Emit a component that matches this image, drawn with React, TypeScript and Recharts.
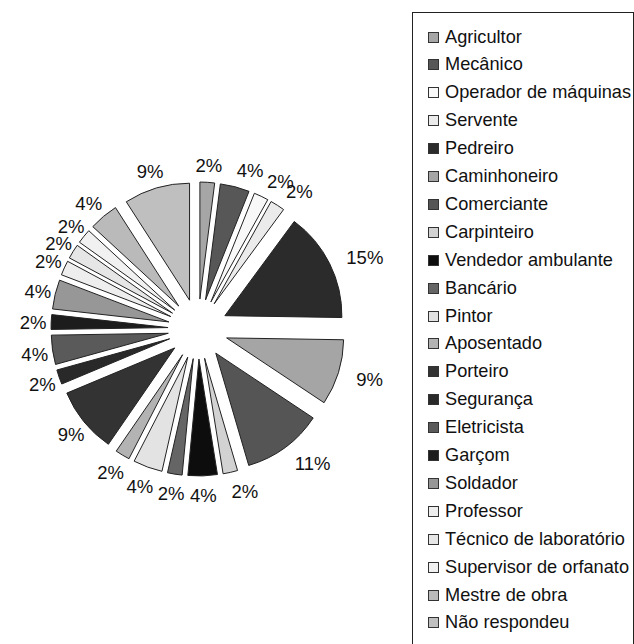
import React from "react";
import { PieChart, Pie, Cell, Sector, Legend } from "recharts";

// Occupations and their share (%) of respondents
const occupations = [
  "Agricultor",
  "Mecânico",
  "Operador de máquinas",
  "Servente",
  "Pedreiro",
  "Caminhoneiro",
  "Comerciante",
  "Carpinteiro",
  "Vendedor ambulante",
  "Bancário",
  "Pintor",
  "Aposentado",
  "Porteiro",
  "Segurança",
  "Eletricista",
  "Garçom",
  "Soldador",
  "Professor",
  "Técnico de laboratório",
  "Supervisor de orfanato",
  "Mestre de obra",
  "Não respondeu",
];

const shares = [2, 4, 2, 2, 15, 9, 11, 2, 4, 2, 4, 2, 9, 2, 4, 2, 4, 2, 2, 2, 4, 9];

const grays = [
  "#a6a6a6", "#575757", "#f8f8f8", "#ebebeb", "#2b2b2b", "#a5a5a5",
  "#555555", "#d2d2d2", "#0d0d0d", "#656565", "#e3e3e3", "#b3b3b3",
  "#333333", "#292929", "#5a5a5a", "#1c1c1c", "#979797", "#eeeeee",
  "#e6e6e6", "#f1f1f1", "#bababa", "#bfbfbf",
];

const data = occupations.map((name, i) => ({ name, value: shares[i] }));

const RAD = Math.PI / 180;
const EXPLODE = 30;
const LABEL_R = 170;
const FONT = '"Liberation Sans", Arial, sans-serif';

// every slice pulled out along its own bisector
function ExplodedSlice(props: any) {
  const { cx, cy, midAngle } = props;
  const dx = EXPLODE * Math.cos(-midAngle * RAD);
  const dy = EXPLODE * Math.sin(-midAngle * RAD);
  return <Sector {...props} cx={cx + dx} cy={cy + dy} />;
}

// labels on the right grow outward from their anchor, the rest stay centred
function PercentLabel(props: any) {
  const { cx, cy, midAngle, value } = props;
  const ux = Math.cos(-midAngle * RAD);
  const uy = Math.sin(-midAngle * RAD);
  const right = ux > 0.1;
  const x = cx + LABEL_R * ux + (right ? -4 : ux < -0.75 ? 5 : 0);
  const y = cy + LABEL_R * uy + 1.5 - 4.5 * uy;
  return (
    <text
      x={x}
      y={y}
      textAnchor={right ? "start" : "middle"}
      dominantBaseline="central"
      fill="#111"
      fontSize={18.5}
      fontFamily={FONT}
    >
      {`${value}%`}
    </text>
  );
}

function BoxLegend({ payload }: any) {
  const items = [...(payload || [])].sort(
    (a: any, b: any) => occupations.indexOf(a.value) - occupations.indexOf(b.value)
  );
  return (
    <div
      style={{
        position: "relative",
        width: 222,
        height: 650,
        boxSizing: "border-box",
        border: "1px solid #222",
        background: "#fff",
        fontFamily: FONT,
        fontSize: 18.2,
        color: "#111",
      }}
    >
      {items.map((entry: any, i: number) => (
        <div
          key={entry.value}
          style={{
            position: "absolute",
            left: 15,
            top: 10 + i * 27.9,
            height: 28,
            display: "flex",
            alignItems: "center",
            whiteSpace: "nowrap",
          }}
        >
          <span
            style={{
              display: "inline-block",
              width: 11,
              height: 11,
              boxSizing: "border-box",
              border: "1px solid #333",
              background: entry.color,
              marginRight: 6,
            }}
          />
          <span>{entry.value}</span>
        </div>
      ))}
    </div>
  );
}

export default function App() {
  return (
    <div style={{ position: "absolute", left: 0, top: 0, width: 634, height: 644, overflow: "hidden", background: "#fff" }}>
      <PieChart width={634} height={644} margin={{ top: 0, right: 0, bottom: 0, left: 0 }}>
        <Pie
          data={data}
          dataKey="value"
          nameKey="name"
          cx={198}
          cy={329}
          outerRadius={117}
          startAngle={90}
          endAngle={-270}
          stroke="#222"
          strokeWidth={1}
          shape={ExplodedSlice}
          label={PercentLabel}
          labelLine={false}
          isAnimationActive={false}
        >
          {data.map((d, i) => (
            <Cell key={d.name} fill={grays[i]} />
          ))}
        </Pie>
        <Legend
          content={<BoxLegend />}
          wrapperStyle={{ left: 412, top: 12, width: 222, height: 650 }}
        />
      </PieChart>
    </div>
  );
}
